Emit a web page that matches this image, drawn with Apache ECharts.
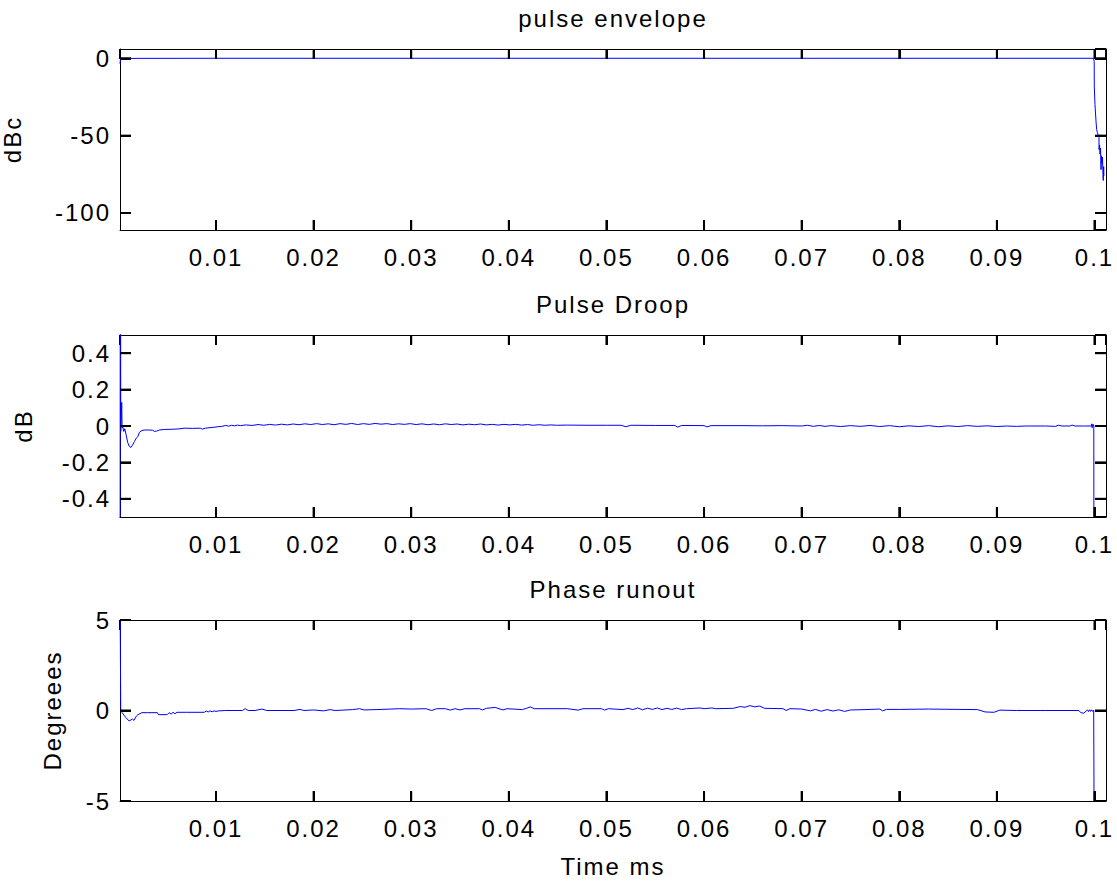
<!DOCTYPE html>
<html>
<head>
<meta charset="utf-8">
<script src="https://cdn.jsdelivr.net/npm/echarts@6/dist/echarts.min.js"></script>
<style>
html,body{margin:0;padding:0;background:#fff;}
#chart{width:1117px;height:884px;letter-spacing:2px;}
</style>
</head>
<body>
<div id="chart"></div>
<script>
// ---- tick labels ----
const timeTicks = [0.01, 0.02, 0.03, 0.04, 0.05, 0.06, 0.07, 0.08, 0.09, 0.1];
const envTicks = [0, -50, -100];
const droopTicks = [0.4, 0.2, 0, -0.2, -0.4];
const phaseTicks = [5, 0, -5];

// ---- titles / axis names ----
const titles = ['pulse envelope', 'Pulse Droop', 'Phase runout'];
const yNames = ['dBc', 'dB', 'Degreees'];
const xName = 'Time ms';

// ---- series data: [time ms, value] ----
const envelope = [
  [0.000165, -3.5], [0.00022, -0.3], [0.0003, -0.05], [0.001, -0.1], [0.002, -0.05],
  [0.01, 0], [0.03, 0], [0.05, 0], [0.07, 0], [0.09, 0], [0.0999, 0],
  [0.09997, -2], [0.09998, -18], [0.10005, -30], [0.10015, -40], [0.10022, -46],
  [0.10030, -48], [0.10040, -50], [0.10046, -51], [0.10047, -59], [0.10052, -56],
  [0.10057, -62], [0.10062, -58], [0.10067, -72], [0.10072, -63], [0.10077, -68],
  [0.10082, -64], [0.10087, -75], [0.10090, -79], [0.10094, -70], [0.10097, -76]
];

const droop = [
  [0.000165, -3.0], [0.00020, 2.5], [0.00024, -0.03], [0.00030, 0.05], [0.00034, 0.13],
  [0.00038, -0.01], [0.00045, -0.006], [0.00055, -0.03], [0.00065, -0.015], [0.00080, -0.05],
  [0.00095, -0.09], [0.00110, -0.11], [0.00128, -0.118], [0.00145, -0.105], [0.00165, -0.085],
  [0.00185, -0.065], [0.00200, -0.058], [0.00215, -0.035], [0.00240, -0.025], [0.00270, -0.022],
  [0.00310, -0.022], [0.00350, -0.023], [0.00370, -0.030], [0.00390, -0.028], [0.00420, -0.022],
  [0.00470, -0.019], [0.00550, -0.018], [0.00620, -0.016], [0.00680, -0.012], [0.00760, -0.013],
  [0.00840, -0.012], [0.00860, -0.017], [0.00890, -0.012], [0.00960, -0.008], [0.01020, -0.004],
  [0.01060, -0.002], [0.01100, 0.003], [0.01130, -0.001], [0.01160, 0.004], [0.01190, 0.001],
  [0.01220, 0.005], [0.0125, 0.002], [0.0131, 0.006], [0.0137, 0.003], [0.0143, 0.008],
  [0.0149, 0.004], [0.0155, 0.009], [0.0161, 0.005], [0.0167, 0.010], [0.0173, 0.006],
  [0.0179, 0.011], [0.0185, 0.007], [0.0191, 0.012], [0.0197, 0.008], [0.0203, 0.013],
  [0.0209, 0.008], [0.0215, 0.012], [0.0221, 0.007], [0.0227, 0.013], [0.0233, 0.009],
  [0.0239, 0.014], [0.0245, 0.008], [0.0251, 0.013], [0.0257, 0.009], [0.0263, 0.014],
  [0.0269, 0.010], [0.0275, 0.013], [0.0281, 0.008], [0.0287, 0.012], [0.0293, 0.009],
  [0.0299, 0.013], [0.0305, 0.008], [0.0311, 0.012], [0.0317, 0.007], [0.0323, 0.011],
  [0.0329, 0.007], [0.0335, 0.012], [0.0341, 0.008], [0.0347, 0.011], [0.0353, 0.006],
  [0.0359, 0.010], [0.0365, 0.007], [0.0371, 0.011], [0.0377, 0.006], [0.0383, 0.009],
  [0.0389, 0.005], [0.0395, 0.009], [0.0401, 0.006], [0.0407, 0.009], [0.0413, 0.005],
  [0.0419, 0.008], [0.0425, 0.004], [0.0431, 0.007], [0.0437, 0.004], [0.0443, 0.006],
  [0.0449, 0.004], [0.0460, 0.005], [0.0480, 0.004], [0.0500, 0.004], [0.0515, 0.004],
  [0.0520, -0.004], [0.0525, 0.004], [0.0550, 0.003], [0.0570, 0.003], [0.0573, -0.006],
  [0.0577, 0.003], [0.0600, 0.002], [0.0603, -0.005], [0.0607, 0.002], [0.0640, 0.002],
  [0.0660, 0.001], [0.0680, 0.002], [0.0700, 0.000], [0.0706, 0.004], [0.0712, -0.002],
  [0.0718, 0.003], [0.0724, -0.002], [0.0730, 0.002], [0.0740, -0.003], [0.0750, 0.002],
  [0.0760, -0.002], [0.0770, 0.003], [0.0780, -0.003], [0.0790, 0.002], [0.0800, -0.004],
  [0.0810, 0.001], [0.0820, -0.003], [0.0830, 0.002], [0.0840, -0.004], [0.0850, 0.001],
  [0.0860, -0.003], [0.0870, 0.002], [0.0880, -0.002], [0.0890, 0.001], [0.0900, -0.003],
  [0.0910, 0.000], [0.0920, -0.002], [0.0930, 0.000], [0.0950, 0.000], [0.0960, -0.002],
  [0.0963, 0.004], [0.0967, 0.000], [0.0975, 0.000], [0.0977, 0.005], [0.0980, 0.000],
  [0.0990, 0.000], [0.09968, 0.000], [0.09972, 0.012], [0.09976, -0.010], [0.09985, 0.010],
  [0.09993, 0.000], [0.09996, -2.0], [0.1000, -10], [0.1005, -25], [0.1010, -40]
];

const phase = [
  [0.000165, 7], [0.00024, 0.1], [0.00035, -0.1], [0.00075, -0.38], [0.00110, -0.58],
  [0.00145, -0.47], [0.00160, -0.55], [0.00185, -0.30], [0.00200, -0.23], [0.00240, -0.12],
  [0.00300, -0.12], [0.00400, -0.12], [0.00410, -0.23], [0.00500, -0.23], [0.00520, -0.12],
  [0.00540, -0.20], [0.00560, -0.10], [0.00580, -0.18], [0.00600, -0.10], [0.00700, -0.10],
  [0.00880, -0.10], [0.00900, -0.03], [0.00920, -0.08], [0.00940, -0.02], [0.00960, -0.07],
  [0.00980, -0.02], [0.01000, -0.05], [0.01030, -0.02], [0.01100, 0.0], [0.01270, 0.0],
  [0.01300, 0.10], [0.01330, 0.0], [0.0140, 0.0], [0.0147, 0.08], [0.0152, 0.0],
  [0.0180, 0.0], [0.0186, 0.06], [0.0190, 0.0], [0.0200, 0.03], [0.0210, -0.02],
  [0.0217, 0.05], [0.0222, 0.0], [0.0240, 0.05], [0.0247, 0.10], [0.0252, 0.03],
  [0.0270, 0.06], [0.0288, 0.10], [0.0300, 0.08], [0.0315, 0.10], [0.0321, 0.0],
  [0.0326, 0.10], [0.0335, 0.10], [0.0340, 0.02], [0.0345, 0.10], [0.0350, 0.03],
  [0.0355, 0.10], [0.0370, 0.10], [0.0373, 0.03], [0.0377, 0.12], [0.0386, 0.17],
  [0.0390, 0.10], [0.0394, 0.03], [0.0398, 0.10], [0.0414, 0.05], [0.0418, 0.12],
  [0.0422, 0.20], [0.0426, 0.10], [0.0460, 0.10], [0.0471, 0.02], [0.0476, 0.10],
  [0.0495, 0.10], [0.0498, 0.02], [0.0502, 0.10], [0.0517, 0.05], [0.0522, 0.12],
  [0.0527, 0.05], [0.0532, 0.14], [0.0537, 0.04], [0.0542, 0.13], [0.0547, 0.06],
  [0.0552, 0.14], [0.0557, 0.05], [0.0562, 0.12], [0.0567, 0.06], [0.0572, 0.13],
  [0.0577, 0.05], [0.0582, 0.10], [0.0596, 0.14], [0.0600, 0.10], [0.0608, 0.14],
  [0.0612, 0.10], [0.0630, 0.12], [0.0637, 0.22], [0.0642, 0.18], [0.0647, 0.27],
  [0.0652, 0.20], [0.0657, 0.25], [0.0662, 0.12], [0.0681, 0.10], [0.0684, 0.0],
  [0.0688, 0.10], [0.0700, 0.08], [0.0709, -0.02], [0.0714, 0.06], [0.0720, -0.04],
  [0.0726, 0.05], [0.0732, -0.03], [0.0738, 0.04], [0.0744, -0.05], [0.0750, 0.03],
  [0.0765, 0.05], [0.0780, 0.08], [0.0783, -0.02], [0.0787, 0.06], [0.0800, 0.06],
  [0.0830, 0.08], [0.0860, 0.06], [0.0880, 0.05], [0.0888, -0.08], [0.0897, -0.10],
  [0.0903, 0.02], [0.0920, 0.0], [0.0950, 0.0], [0.0984, 0.0], [0.0986, -0.12],
  [0.0989, -0.15], [0.0991, -0.05], [0.0993, 0.03], [0.0994, -0.06], [0.0995, 0.04],
  [0.0996, -0.05], [0.0997, 0.04], [0.0998, -0.05], [0.09992, 0.02], [0.09996, -6],
  [0.1003, -15], [0.1009, -25]
];

// ---- layout / style constants ----
const FONT = '"Liberation Sans", Arial, Helvetica, sans-serif';
const XMIN = 0.000165, XMAX = 0.10118;
const yRanges = [[-111, 6], [-0.5, 0.5], [-5, 5]];
const ySplits = [2, 5, 2];
const yTickSets = [envTicks, droopTicks, phaseTicks];
const yNameGaps = [96, 85, 56];
const grids = [
  {left: 120, top: 49, width: 986, height: 181},
  {left: 120, top: 335, width: 986, height: 182},
  {left: 120, top: 620, width: 986, height: 181}
];
const seriesData = [envelope, droop, phase];
const X_TICK_LEN = 10, Y_TICK_LEN = 11;

const txt = {fontFamily: FONT, fontSize: 24, color: '#000'};
const frameLine = {show: true, onZero: false, lineStyle: {color: '#000', width: 1}};

// show a label only for the listed tick values
function labelOnly(list) {
  return function (v) {
    for (let k = 0; k < list.length; k++) {
      if (Math.abs(v - list[k]) < 1e-9) return String(list[k]);
    }
    return '';
  };
}
function axisTick(len) {
  return {show: true, inside: true, length: len, lineStyle: {color: '#000', width: 2}};
}

// inward tick marks, placed through the axis scales at the tick values
function tickSeries(i, data, size, offset) {
  return {
    type: 'scatter', xAxisIndex: 2 * i, yAxisIndex: 2 * i, data: data,
    symbol: 'rect', symbolSize: size, symbolOffset: offset, clip: false, silent: true,
    itemStyle: {color: '#000', opacity: 1}, emphasis: {disabled: true}, z: 5
  };
}

const xAxis = [], yAxis = [], series = [];
grids.forEach((g, i) => {
  g.show = false;
  g.outerBoundsMode = 'none';
  g.containLabel = false;
  const yMin = yRanges[i][0], yMax = yRanges[i][1];
  xAxis.push({
    gridIndex: i, type: 'value', position: 'bottom', min: XMIN, max: XMAX, splitNumber: 10,
    axisLine: frameLine, splitLine: {show: false}, axisTick: axisTick(X_TICK_LEN),
    axisLabel: Object.assign({show: true, margin: 15, showMinLabel: false, showMaxLabel: false,
      formatter: labelOnly(timeTicks)}, txt),
    name: i === 2 ? xName : '', nameLocation: 'middle', nameGap: 53, nameTextStyle: txt
  });
  xAxis.push({
    gridIndex: i, type: 'value', position: 'top', min: XMIN, max: XMAX, splitNumber: 10,
    axisLine: frameLine, splitLine: {show: false}, axisTick: axisTick(X_TICK_LEN),
    axisLabel: {show: false},
    name: titles[i], nameLocation: 'middle', nameGap: 19, nameTextStyle: txt
  });
  yAxis.push({
    gridIndex: i, type: 'value', position: 'left', min: yMin, max: yMax,
    splitNumber: ySplits[i],
    axisLine: frameLine, splitLine: {show: false}, axisTick: axisTick(Y_TICK_LEN),
    axisLabel: Object.assign({show: true, margin: 9, showMinLabel: i === 2, showMaxLabel: i === 2,
      formatter: labelOnly(yTickSets[i])}, txt),
    name: yNames[i], nameLocation: 'middle', nameGap: yNameGaps[i], nameRotate: 90, nameTextStyle: txt
  });
  yAxis.push({
    gridIndex: i, type: 'value', position: 'right', min: yMin, max: yMax,
    splitNumber: ySplits[i],
    axisLine: frameLine, splitLine: {show: false}, axisTick: axisTick(Y_TICK_LEN),
    axisLabel: {show: false}
  });
  series.push({
    type: 'line', xAxisIndex: 2 * i, yAxisIndex: 2 * i, data: seriesData[i],
    showSymbol: false, symbol: 'none', clip: true,
    lineStyle: {color: '#0000ff', width: 1}, emphasis: {disabled: true}
  });
  // tick marks: bottom, top, left, right
  series.push(tickSeries(i, timeTicks.map(t => [t, yMin]), [2, X_TICK_LEN], [0, -X_TICK_LEN / 2]));
  series.push(tickSeries(i, timeTicks.map(t => [t, yMax]), [2, X_TICK_LEN], [0, X_TICK_LEN / 2]));
  series.push(tickSeries(i, yTickSets[i].map(v => [XMIN, v]), [Y_TICK_LEN, 2], [Y_TICK_LEN / 2, 0]));
  series.push(tickSeries(i, yTickSets[i].map(v => [XMAX, v]), [Y_TICK_LEN, 2], [-Y_TICK_LEN / 2, 0]));
});

const chart = echarts.init(document.getElementById('chart'), null, {renderer: 'svg'});
chart.setOption({
  animation: false,
  backgroundColor: '#fff',
  grid: grids,
  xAxis: xAxis,
  yAxis: yAxis,
  series: series
});
</script>
</body>
</html>
